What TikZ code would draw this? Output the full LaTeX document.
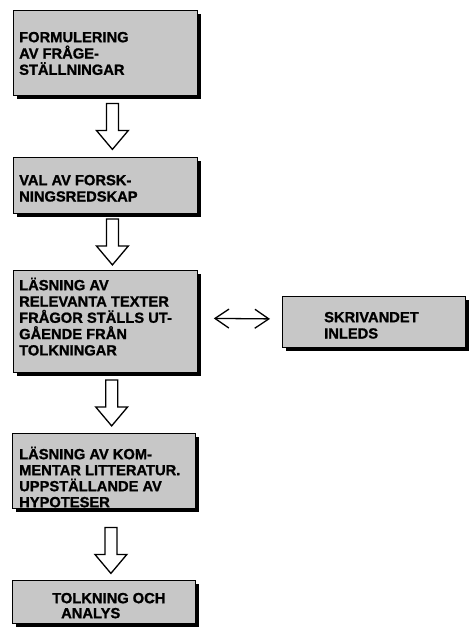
\documentclass[tikz,border=0pt]{standalone}
\usepackage{fontspec}
\setmainfont{Liberation Sans}[BoldFeatures={FakeBold=1.2}]
\usetikzlibrary{arrows.meta,calc,shadows}
\begin{document}
\begin{tikzpicture}[x=1pt,y=-1pt,
  box/.style={draw=black,line width=0.8pt,fill=black!22,rectangle,inner sep=0pt,anchor=north west,
    drop shadow={shadow xshift=4pt,shadow yshift=-4pt,fill=black,opacity=1}},
  txt/.style={anchor=north west,inner sep=0pt,align=left,
    font=\fontsize{14.7}{16.3}\selectfont\bfseries},
  downarrow/.pic={\draw[line width=1.3pt,fill=white,line join=miter]
    (-6,-23) -- (6,-23) -- (6,4) -- (16,4) -- (0,23) -- (-16,4) -- (-6,4) -- cycle;},
  dbl/.style={line width=1.3pt,{Straight Barb[length=14pt,width=19pt,line width=1.3pt]}-{Straight Barb[length=14pt,width=19pt,line width=1.3pt]}}
]
\useasboundingbox (0,0) rectangle (469,633);
\fill[white] (0,0) rectangle (469,633);

\node[box,minimum width=184pt,minimum height=85pt] (b1) at (13,10) {};
\node[box,minimum width=184pt,minimum height=56pt] (b2) at (13,157) {};
\node[box,minimum width=184pt,minimum height=102pt] (b3) at (13,270) {};
\node[box,minimum width=183pt,minimum height=51pt] (b4) at (282,296) {};
\node[box,minimum width=183pt,minimum height=75pt] (b5) at (12,433) {};
\node[box,minimum width=183pt,minimum height=43pt] (b6) at (12,580) {};

\node[txt] (t1) at (19,28) {\rule{0pt}{14pt}FORMULERING\\AV FRÅGE-\\STÄLLNINGAR};
\node[txt] (t2) at (19,171) {\rule{0pt}{14pt}VAL AV FORSK-\\NINGSREDSKAP};
\node[txt] (t3) at (19,276) {\rule{0pt}{14pt}LÄSNING AV\\RELEVANTA TEXTER\\FRÅGOR STÄLLS UT-\\GÅENDE FRÅN\\TOLKNINGAR};
\node[txt] (t4) at (324,308) {\rule{0pt}{14pt}SKRIVANDET\\INLEDS};
\node[txt,font=\fontsize{14.7}{16}\selectfont\bfseries] (t5) at (19,445) {\rule{0pt}{14pt}LÄSNING AV KOM-\\MENTAR LITTERATUR.\\UPPSTÄLLANDE AV\\HYPOTESER};
\node[txt,font=\fontsize{14.7}{15}\selectfont\bfseries] (t6) at (52,589) {\rule{0pt}{14pt}TOLKNING OCH\\\hspace*{9pt}ANALYS};

\pic at ($(b1.south)!0.5!(b2.north)+(7,0)$) {downarrow};
\pic at ($(b2.south)!0.5!(b3.north)+(7,0)$) {downarrow};
\pic at ($(b3.south)!0.5!(b5.north)+(7,0)$) {downarrow};
\pic at ($(b5.south)!0.5!(b6.north)+(7,6)$) {downarrow};

\draw[dbl] ($(b3.east)+(16,-3)$) -- ($(b4.west)+(-12,-3)$);
\end{tikzpicture}
\end{document}
